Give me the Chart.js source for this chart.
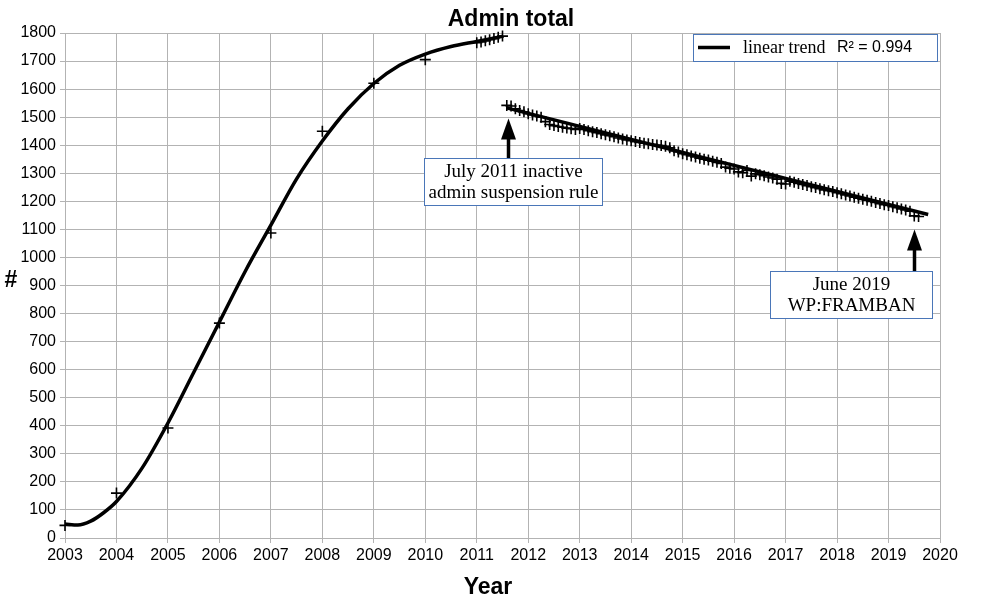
<!DOCTYPE html>
<html>
<head>
<meta charset="utf-8">
<script src="https://cdn.jsdelivr.net/npm/chart.js@4/dist/chart.umd.min.js"></script>
<style>
body{margin:0;background:#fff}
#wrap{width:1000px;height:610px;position:relative}
</style>
</head>
<body>
<div id="wrap"><canvas id="adminChart" width="1000" height="610"></canvas></div>
<script>

// yearly admin counts 2003-2010
let yearlyYears=[2003,2004,2005,2006,2007,2008,2009,2010]
let yearlyAdmins=[45,160,392,766,1087,1450,1621,1705]

// monthly admin counts starting January 2011
let monthlyStart=2011
let monthlyAdmins=[
1765,1768,1772,1776,1780,1785,1789,
1542,1540,1530,1524,1519,
1512,1508,1504,1500,1484,1474,1470,1467,1464,1461,1459,1456,
1460,1456,1452,1448,1445,1441,1437,1434,1430,1426,1422,1419,
1416,1413,1410,1407,1405,1403,1401,1399,1396,1391,1380,1376,
1370,1366,1362,1358,1354,1350,1347,1343,1339,1335,1322,1318,
1315,1305,1302,1310,1290,1298,1295,1291,1287,1283,1279,1264,
1262,1272,1268,1264,1260,1256,1252,1249,1245,1241,1238,1235,
1231,1227,1223,1219,1215,1211,1207,1204,1200,1196,1192,1188,
1185,1181,1177,1173,1169,1165,1148,1146
]

// growth curve
let curveYears=[2003,2003.25,2003.5,2003.75,2004,2004.5,2005,2005.5,2006,2006.5,2007,2007.5,2008,2008.5,2009,2009.5,2010,2010.5,2011,2011.5]
let curveAdmins=[50,46,60,90,130,250,410,590,770,950,1115,1280,1415,1530,1620,1685,1725,1752,1770,1788]

// linear trend after the July 2011 rule
let trendYears=[2011.58,2019.77]
let trendAdmins=[1533,1153]
let trendR2="0.994"

let yTicks={min:0,max:1800,step:100}
let xTicks={min:2003,max:2020,step:1}

let notes=[
{lines:["July 2011 inactive","admin suspension rule"],arrowX:2011.6,arrowTip:1495,boxX:2011.71,boxTop:1354,boxW:178,boxH:47},
{lines:["June 2019","WP:FRAMBAN"],arrowX:2019.5,arrowTip:1100,boxX:2018.27,boxTop:951,boxW:162,boxH:47}
]

let points=[]
yearlyYears.forEach((y,i)=>points.push({x:y,y:yearlyAdmins[i]}))
monthlyAdmins.forEach((v,i)=>points.push({x:monthlyStart+i/12,y:v}))

let curve=curveYears.map((y,i)=>({x:y,y:curveAdmins[i]}))
let trend=trendYears.map((y,i)=>({x:y,y:trendAdmins[i]}))

let boxBlue="#4a76b8"
let grid="#b3b3b3"

let extras={
id:"extras",
afterDraw(chart){
let ctx=chart.ctx
let xs=chart.scales.x
let ys=chart.scales.y
ctx.save()

// titles
ctx.fillStyle="#000"
ctx.textAlign="center"
ctx.textBaseline="middle"
ctx.font="bold 23px 'Liberation Sans', Arial, sans-serif"
ctx.fillText("Admin total",511,20)
ctx.fillText("Year",488,588)
ctx.fillText("#",11,281)

// legend
ctx.fillStyle="#fff"
ctx.fillRect(693,34,245,27)
ctx.strokeStyle=boxBlue
ctx.lineWidth=1
ctx.strokeRect(693.5,34.5,244,27)
ctx.strokeStyle="#000"
ctx.lineWidth=3.5
ctx.beginPath()
ctx.moveTo(698,47.5)
ctx.lineTo(730,47.5)
ctx.stroke()
ctx.fillStyle="#000"
ctx.textAlign="left"
ctx.font="18px 'Liberation Serif', 'Times New Roman', serif"
ctx.fillText("linear trend",743,48)
ctx.font="16px 'Liberation Sans', Arial, sans-serif"
ctx.fillText("R\u00b2 = "+trendR2,837,48)

// annotations
notes.forEach(n=>{
let ax=Math.round(xs.getPixelForValue(n.arrowX))+0.5
let tip=ys.getPixelForValue(n.arrowTip)
let bx=xs.getPixelForValue(n.boxX)
let bt=Math.round(ys.getPixelForValue(n.boxTop))+0.5
let left=Math.round(bx-n.boxW/2)+0.5

ctx.strokeStyle="#000"
ctx.lineWidth=3.5
ctx.beginPath()
ctx.moveTo(ax,bt)
ctx.lineTo(ax,tip+19)
ctx.stroke()
ctx.fillStyle="#000"
ctx.beginPath()
ctx.moveTo(ax-7.5,tip+21)
ctx.lineTo(ax+7.5,tip+21)
ctx.lineTo(ax,tip)
ctx.closePath()
ctx.fill()

ctx.fillStyle="#fff"
ctx.fillRect(left,bt,n.boxW,n.boxH)
ctx.strokeStyle=boxBlue
ctx.lineWidth=1
ctx.strokeRect(left,bt,n.boxW,n.boxH)
ctx.fillStyle="#000"
ctx.textAlign="center"
ctx.font="19px 'Liberation Serif', 'Times New Roman', serif"
n.lines.forEach((t,i)=>{
ctx.fillText(t,left+n.boxW/2,bt+13.5+i*21)
})
})

ctx.restore()
}
}

new Chart(document.getElementById("adminChart"),{
type:"scatter",
data:{
datasets:[
{
label:"admins",
data:points,
pointStyle:"cross",
pointRadius:5.5,
pointBorderWidth:1.6,
borderColor:"#000",
backgroundColor:"#000",
showLine:false,
clip:false,
order:1
},
{
label:"growth",
data:curve,
showLine:true,
borderColor:"#000",
borderWidth:3.5,
pointRadius:0,
tension:0.4,
cubicInterpolationMode:"monotone",
clip:false,
order:2
},
{
label:"linear trend",
data:trend,
showLine:true,
borderColor:"#000",
borderWidth:3.5,
pointRadius:0,
order:2
}
]
},
options:{
responsive:false,
animation:false,
layout:{padding:{top:33,right:60,left:0,bottom:0}},
plugins:{
legend:{display:false},
tooltip:{enabled:false},
title:{display:false}
},
scales:{
x:{
type:"linear",
min:xTicks.min,
max:xTicks.max,
afterFit(s){s.height=72},
grid:{color:grid,tickLength:5,lineWidth:1},
border:{color:grid},
ticks:{
stepSize:xTicks.step,
padding:3,
color:"#000",
font:{family:"'Liberation Sans', Arial, sans-serif",size:16},
maxRotation:0,
callback:v=>String(v)
}
},
y:{
min:yTicks.min,
max:yTicks.max,
afterFit(s){s.width=65},
grid:{color:grid,tickLength:5,lineWidth:1},
border:{color:grid},
ticks:{
stepSize:yTicks.step,
padding:4,
color:"#000",
font:{family:"'Liberation Sans', Arial, sans-serif",size:16},
callback:v=>String(v)
}
}
}
},
plugins:[extras]
})

</script>
</body>
</html>
